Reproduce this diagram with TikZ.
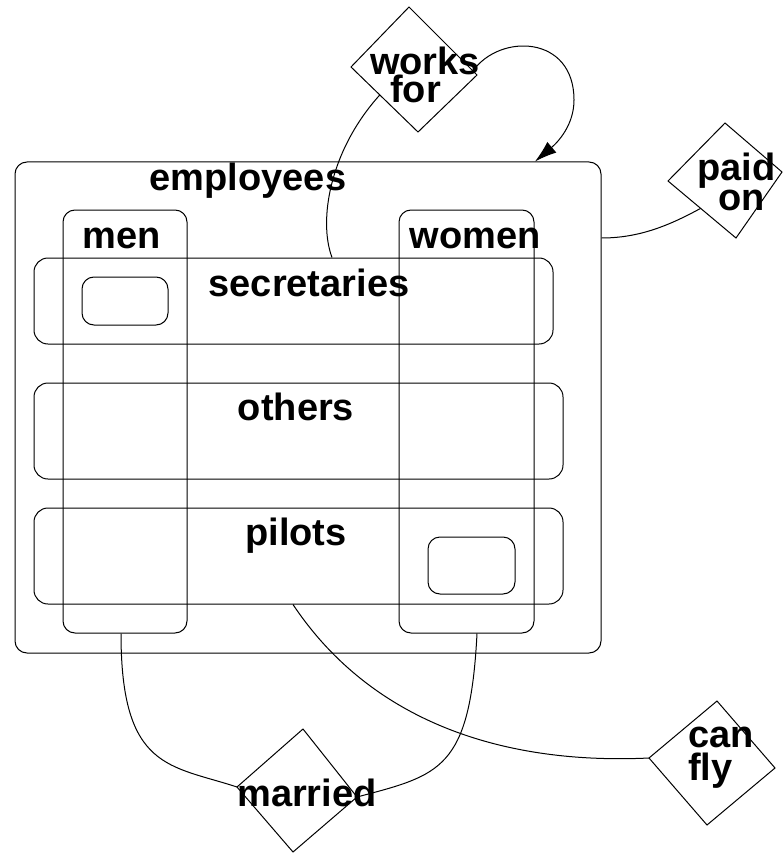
\documentclass[tikz,border=0pt]{standalone}
\usepackage{fontspec}
\setmainfont{Liberation Sans}
\usetikzlibrary{arrows.meta,calc}
\tikzset{
  box/.style={draw=black, line width=1pt, rounded corners=12pt, rectangle, inner sep=0pt, fill=none},
  lbl/.style={font=\fontsize{38}{38}\selectfont\bfseries, inner sep=0pt, anchor=base},
  lbl2/.style={font=\fontsize{38}{28}\selectfont\bfseries, inner sep=0pt, anchor=base west, align=left},
  conn/.style={draw=black, line width=1pt},
  rel/.style={draw=black, line width=1pt, line join=miter}
}
\begin{document}
\begin{tikzpicture}[x=1pt,y=-1pt]
\useasboundingbox (0,0) rectangle (783,853);
% boxes
\node[box, minimum width=586pt, minimum height=491pt] (emp) at (308,407.5) {};
\node[box, minimum width=124pt, minimum height=423pt] (men) at (125,421.5) {};
\node[box, minimum width=135pt, minimum height=423pt] (women) at (466.5,421.5) {};
\node[box, minimum width=519pt, minimum height=86pt, rounded corners=14pt] (sec) at (293.5,301) {};
\node[box, minimum width=529pt, minimum height=96pt, rounded corners=14pt] (oth) at (298.5,431) {};
\node[box, minimum width=529pt, minimum height=96pt, rounded corners=14pt] (pil) at (298.5,556) {};
\node[box, minimum width=86pt, minimum height=48pt] (sm1) at (125,301) {};
\node[box, minimum width=87pt, minimum height=57pt] (sm2) at (471.5,565.5) {};
% box labels
\node[lbl] (tEmp) at (248,190) {employees};
\node[lbl] (tMen) at (121.5,248) {men};
\node[lbl] (tWomen) at (475,248) {women};
\node[lbl] (tSec) at (309,296) {secretaries};
\node[lbl] (tOth) at (296,420) {others};
\node[lbl] (tPil) at (296,545) {pilots};
% diamonds
\coordinate (wfT) at (409,7); \coordinate (wfR) at (477,75);
\coordinate (wfB) at (418,132); \coordinate (wfL) at (351,67);
\draw[rel] (wfT) -- (wfR) -- (wfB) -- (wfL) -- cycle;
\node[lbl2] (tWorks) at (370,103) {works\\\hspace*{20pt}for};
\coordinate (poT) at (725,123); \coordinate (poR) at (782,172);
\coordinate (poB) at (736,238); \coordinate (poL) at (668,181);
\draw[rel] (poT) -- (poR) -- (poB) -- (poL) -- cycle;
\node[lbl2] (tPaid) at (697,210) {paid\\\hspace*{21pt}on};
\coordinate (cfT) at (717,701); \coordinate (cfR) at (775,768);
\coordinate (cfB) at (707,825); \coordinate (cfL) at (649,758);
\draw[rel] (cfT) -- (cfR) -- (cfB) -- (cfL) -- cycle;
\node[lbl2, font=\fontsize{38}{33}\selectfont\bfseries] (tCan) at (688,780) {can\\fly};
\coordinate (maT) at (303,729); \coordinate (maR) at (357,797);
\coordinate (maB) at (293,852); \coordinate (maL) at (237,787);
\draw[rel] (maT) -- (maR) -- (maB) -- (maL) -- cycle;
\node[lbl] (tMar) at (307,806) {married};
% connection points on diamond edges
\coordinate (wfOut) at ($(wfT)!0.94!(wfR)$);
\coordinate (wfIn) at ($(wfL)!0.43!(wfB)$);
\coordinate (poIn) at ($(poL)!0.48!(poB)$);
% connectors
\draw[conn, -{Latex[length=22pt,width=14pt]}] (wfOut) .. controls (500,33) and (574,35) .. (574,100)
   .. controls (574,125) and (558,142) .. ($(emp.north)+(227,0)$);
\draw[conn] (wfIn) .. controls (330,150) and (318,220) .. ($(sec.north)+(38.5,0)$);
\draw[conn] (emp.east |- 0,238) .. controls (640,238) and (670,225) .. (poIn);
\draw[conn] ($(men.south)+(-4,0)$) .. controls (121,770) and (170,765) .. (maL);
\draw[conn] ($(women.south)+(10.5,0)$) .. controls (470,770) and (440,775) .. (maR);
\draw[conn] ($(pil.south)+(-5.5,0)$) .. controls (370,720) and (500,765) .. (cfL);
\end{tikzpicture}
\end{document}
